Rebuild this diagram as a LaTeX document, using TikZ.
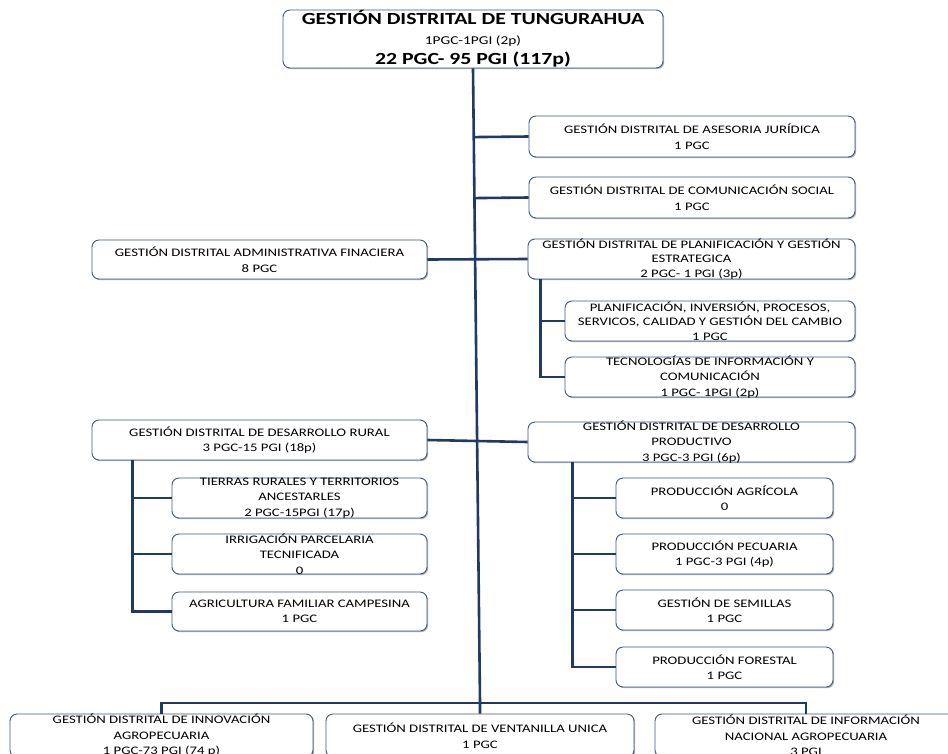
\documentclass[tikz,border=0pt]{standalone}
\usepackage{fontspec}
\setmainfont{Carlito}[FakeStretch=1.28]
\usetikzlibrary{shadows,calc}
\definecolor{boxc}{HTML}{41597D}
\definecolor{connc}{HTML}{1F3A63}
\tikzset{
  orgb/.style={draw=boxc, line width=0.9pt, rounded corners=7pt, fill=white, inner sep=0pt,
     drop shadow={shadow xshift=1.2pt, shadow yshift=-1.2pt, opacity=0.3, fill=black}},
  orgt/.style={align=center, inner sep=0pt, font=\fontsize{11.5}{15.5}\selectfont, text=black},
  three/.style={font=\fontsize{11.5}{14.5}\selectfont},
  conn/.style={draw=connc, line width=2.6pt},
}
\newcommand\orgbox[7][]{%
  \node[orgb, minimum width={(#5-#3)*1pt}, minimum height={(#6-#4)*1pt}] (#2) at ({(#3+#5)/2},{(#4+#6)/2}) {};
  \node[orgt,#1] (#2-t) at (#2.center) {#7};}
\begin{document}
\begin{tikzpicture}[x=1pt,y=-1pt]
\useasboundingbox (0,0) rectangle (948,753);
\fill[white] (0,0) rectangle (948,753);
\clip (0,0) rectangle (948,753);

\orgbox[font=\fontsize{17}{20}\selectfont]{top}{283}{10}{663}{68}{\textbf{GESTIÓN DISTRITAL DE TUNGURAHUA}\\{\fontsize{12}{20}\selectfont 1PGC-1PGI (2p)}\\\textbf{22 PGC- 95 PGI (117p)}}
\orgbox{ases}{529}{116}{855}{157}{GESTIÓN DISTRITAL DE ASESORIA JURÍDICA\\1 PGC}
\orgbox{comu}{529}{177}{855}{218}{GESTIÓN DISTRITAL DE COMUNICACIÓN SOCIAL\\1 PGC}
\orgbox{admin}{92}{240}{427}{279}{GESTIÓN DISTRITAL ADMINISTRATIVA FINACIERA\\8 PGC}
\orgbox[three]{plan}{528}{239}{855}{279}{GESTIÓN DISTRITAL DE PLANIFICACIÓN Y GESTIÓN\\ESTRATEGICA\\2 PGC- 1 PGI (3p)}
\orgbox[three]{pinv}{565}{301}{855}{341}{PLANIFICACIÓN, INVERSIÓN, PROCESOS,\\SERVICOS, CALIDAD Y GESTIÓN DEL CAMBIO\\1 PGC}
\orgbox{tic}{565}{357}{855}{397}{TECNOLOGÍAS DE INFORMACIÓN Y\\COMUNICACIÓN\\1 PGC- 1PGI (2p)}
\orgbox{rural}{92}{420}{427}{460}{GESTIÓN DISTRITAL DE DESARROLLO RURAL\\3 PGC-15 PGI (18p)}
\orgbox{prod}{528}{422}{855}{462}{GESTIÓN DISTRITAL DE DESARROLLO\\PRODUCTIVO\\3 PGC-3 PGI (6p)}
\orgbox{tierras}{172}{478}{427}{518}{TIERRAS RURALES Y TERRITORIOS\\ANCESTARLES\\2 PGC-15PGI (17p)}
\orgbox{irrig}{172}{534}{427}{574}{IRRIGACIÓN PARCELARIA\\TECNIFICADA\\0}
\orgbox{agri}{172}{592}{427}{631}{AGRICULTURA FAMILIAR CAMPESINA\\1 PGC}
\orgbox{pagr}{616}{478}{833}{518}{PRODUCCIÓN AGRÍCOLA\\0}
\orgbox{pecu}{616}{534}{833}{574}{PRODUCCIÓN PECUARIA\\1 PGC-3 PGI (4p)}
\orgbox{semi}{616}{590}{833}{630}{GESTIÓN DE SEMILLAS\\1 PGC}
\orgbox{fore}{616}{647}{833}{687}{PRODUCCIÓN FORESTAL\\1 PGC}
\orgbox{innov}{10}{714}{313}{757}{GESTIÓN DISTRITAL DE INNOVACIÓN\\AGROPECUARIA\\1 PGC-73 PGI (74 p)}
\orgbox{vent}{326}{714}{634}{757}{GESTIÓN DISTRITAL DE VENTANILLA UNICA\\1 PGC}
\orgbox{info}{655}{714}{957}{757}{GESTIÓN DISTRITAL DE INFORMACIÓN\\NACIONAL AGROPECUARIA\\3 PGI}

\coordinate (vb) at (480,703);
\draw[conn] (top.south) -- (vb) -- (vent.north);
\draw[conn] (innov.north) |- (vb) -| (info.north);
\draw[conn] ($(top.south)!(ases.west)!(vb)$) -- (ases.west);
\draw[conn] ($(top.south)!(comu.west)!(vb)$) -- (comu.west);
\draw[conn] (admin.east) -- (plan.west);
\draw[conn] (rural.east) -- (prod.west);

\coordinate (pv) at ([xshift=13pt]plan.south west);
\draw[conn] (pv) |- (tic.west);
\draw[conn] (pv |- pinv.west) -- (pinv.west);

\coordinate (rv) at ([xshift=41pt]rural.south west);
\draw[conn] (rv) |- (agri.west);
\draw[conn] (rv |- tierras.west) -- (tierras.west);
\draw[conn] (rv |- irrig.west) -- (irrig.west);

\coordinate (qv) at ([xshift=45pt]prod.south west);
\draw[conn] (qv) |- (fore.west);
\draw[conn] (qv |- pagr.west) -- (pagr.west);
\draw[conn] (qv |- pecu.west) -- (pecu.west);
\draw[conn] (qv |- semi.west) -- (semi.west);
\end{tikzpicture}
\end{document}
